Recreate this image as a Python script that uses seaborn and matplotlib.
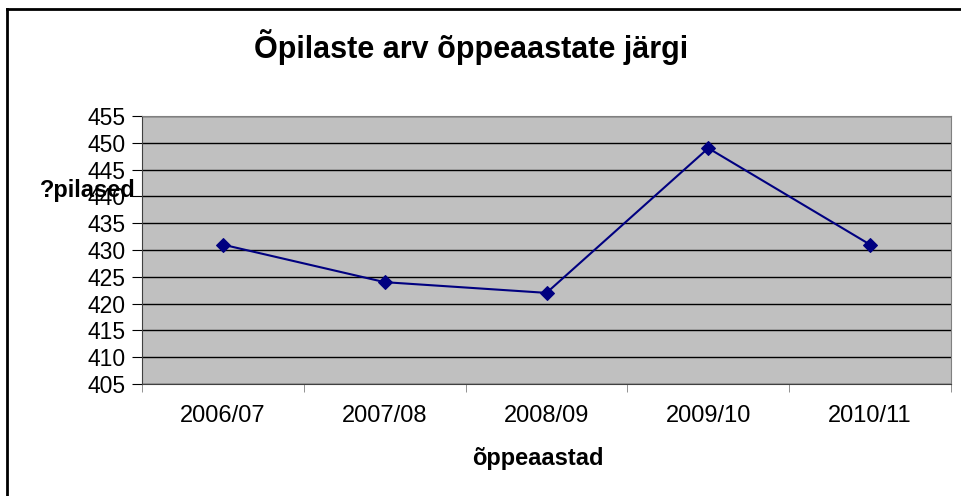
import numpy as np
import pandas as pd
import seaborn as sns
import matplotlib.pyplot as plt
from matplotlib.lines import Line2D

plt.rcParams['font.family'] = ['Liberation Sans', 'DejaVu Sans']

# andmed
years = ['2006/07', '2007/08', '2008/09', '2009/10', '2010/11']
students = [431, 424, 422, 449, 431]
yticks = np.arange(405, 456, 5)

df = pd.DataFrame({'aasta': years, 'opilased': students})

fig = plt.figure(figsize=(9.62, 4.96), dpi=100)
ax = fig.add_axes([142/962, 1 - 384/496, (951 - 142)/962, (384 - 116)/496])
ax.set_facecolor('#C0C0C0')

sns.lineplot(data=df, x='aasta', y='opilased', sort=False, ax=ax,
             color='#000080', marker='D', markersize=7, linewidth=1.5,
             markeredgecolor='#000080')

ax.set_xlim(-0.5, 4.5)
ax.set_ylim(405, 455)
ax.set_yticks(yticks)
ax.set_yticklabels([str(v) for v in yticks], fontsize=16.5)
ax.set_xticks(range(len(years)))
ax.set_xticklabels(years, fontsize=17)
ax.set_xticks(np.arange(-0.5, 4.6, 1), minor=True)
ax.tick_params(axis='x', which='major', length=0, pad=15)
ax.tick_params(axis='x', which='minor', length=6, color='#808080', direction='out')
ax.tick_params(axis='y', length=7, color='black', direction='out', pad=5)

ax.grid(axis='y', color='black', linewidth=1)
ax.set_axisbelow(True)
for s in ['top', 'right']:
    ax.spines[s].set_color('#808080')
for s in ['left', 'bottom']:
    ax.spines[s].set_color('#404040')
ax.set_xlabel('')
ax.set_ylabel('')

fig.text(471/962, 1 - 47/496, 'Õpilaste arv õppeaastate järgi', fontsize=22,
         fontweight='bold', ha='center', va='center')
fig.text(40/962, 1 - 190/496, '?pilased', fontsize=17, fontweight='bold',
         ha='left', va='center')
fig.text(538/962, 1 - 458/496, 'õppeaastad', fontsize=17, fontweight='bold',
         ha='center', va='center')

# raam
fig.add_artist(Line2D([7/962, 7/962], [0, 1 - 9/496], transform=fig.transFigure,
                      color='black', linewidth=2))
fig.add_artist(Line2D([7/962, 1], [1 - 9/496, 1 - 9/496], transform=fig.transFigure,
                      color='black', linewidth=2))

fig.savefig('out.png', dpi=100)
